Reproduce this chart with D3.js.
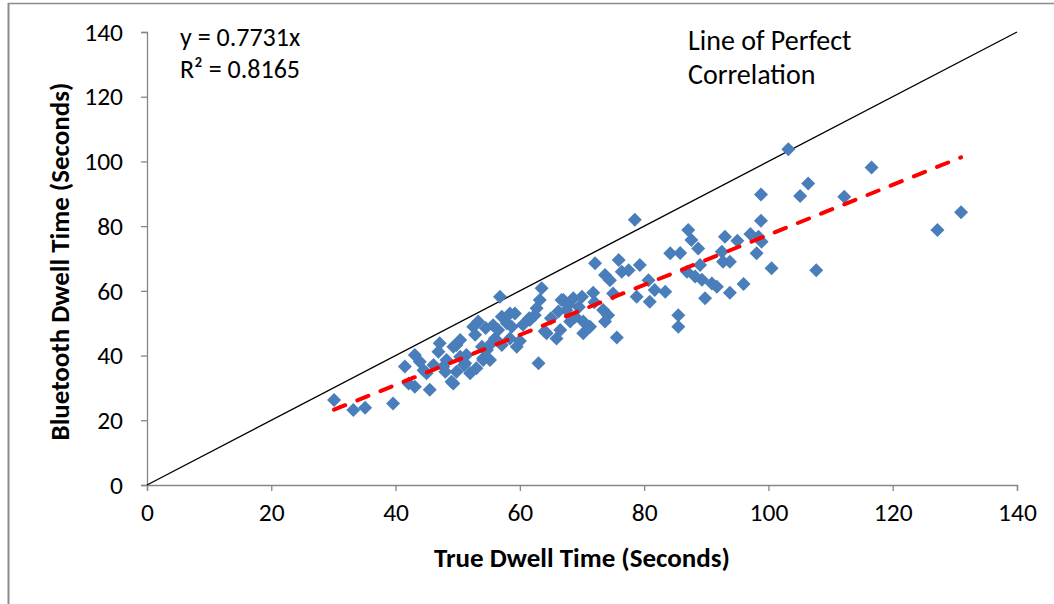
<!DOCTYPE html>
<html>
<head>
<meta charset="utf-8">
<script src="https://d3js.org/d3.v7.min.js"></script>
<style>
  body { margin: 0; background: #fff; }
  text { font-family: Carlito, "Liberation Sans Narrow", "Open Sans", sans-serif; }
</style>
</head>
<body>
<div id="my_dataviz"></div>
<script>
// true dwell time (x) vs bluetooth dwell time (y)
var trueTime = [
    30.1, 33.2, 35.1, 39.6, 41.5, 43.1, 43.9, 42.1, 43.1, 45.5,
    45.0, 46.1, 46.9, 49.0, 48.0, 49.8, 49.8, 51.4, 53.0, 54.1,
    53.9, 47.1, 50.4, 49.3, 50.4, 51.2, 48.2, 47.7, 49.3, 53.3,
    52.5, 52.8, 57.1, 58.4, 59.2, 55.7, 56.5, 57.9, 58.7, 56.0,
    57.1, 59.5, 58.4, 54.7, 55.2, 54.1, 56.8, 63.5, 63.2, 62.7,
    62.4, 61.6, 66.7, 67.8, 66.2, 64.3, 65.9, 63.0, 67.0, 68.6,
    70.0, 67.5, 68.9, 70.2, 71.3, 70.2, 66.5, 68.1, 72.1, 75.9,
    76.4, 77.5, 79.3, 73.7, 74.5, 75.0, 71.8, 80.7, 81.7, 83.4,
    78.8, 80.9, 85.5, 85.5, 73.4, 74.2, 73.7, 75.6, 84.2, 85.8,
    103.2, 116.6, 106.4, 105.1, 98.8, 112.2, 98.8, 131.0, 127.2, 107.7,
    100.5, 87.1, 87.6, 88.7, 93.0, 95.0, 97.1, 98.4, 98.9, 98.1,
    92.5, 92.7, 93.8, 89.0, 86.9, 88.2, 89.3, 90.9, 91.7, 96.0,
    93.8, 89.8, 78.5, 55.5, 60.0, 61.5, 64.0, 72.0, 69.5, 54.5,
    51.0, 44.5, 52.0, 60.5, 65.0
];
var btTime = [
    26.3, 23.2, 23.9, 25.2, 36.6, 40.2, 38.1, 31.4, 30.4, 29.4,
    34.5, 37.1, 41.2, 31.9, 35.0, 35.0, 43.3, 40.2, 36.1, 38.6,
    42.7, 43.8, 44.8, 42.7, 39.6, 37.6, 38.6, 36.6, 31.4, 50.5,
    48.9, 46.4, 52.0, 53.0, 53.0, 49.4, 47.9, 50.0, 48.9, 45.3,
    43.3, 42.7, 45.3, 41.7, 38.6, 39.2, 58.2, 60.8, 57.2, 54.6,
    52.5, 51.0, 57.2, 55.6, 53.6, 46.9, 45.3, 37.6, 57.2, 57.7,
    58.2, 54.1, 52.0, 50.5, 48.9, 46.9, 47.9, 50.5, 68.5, 69.5,
    65.9, 66.4, 68.0, 64.9, 63.3, 59.2, 59.4, 63.3, 60.3, 59.7,
    58.2, 56.6, 52.5, 48.9, 54.1, 52.5, 50.5, 45.6, 71.6, 71.7,
    103.8, 98.1, 93.2, 89.3, 89.8, 89.1, 81.7, 84.3, 78.8, 66.4,
    67.0, 78.8, 75.7, 73.1, 76.7, 75.5, 77.6, 76.7, 75.2, 71.6,
    72.1, 69.0, 69.0, 68.0, 65.9, 64.4, 63.4, 62.3, 61.3, 62.1,
    59.4, 57.7, 82.0, 44.0, 44.5, 51.5, 47.5, 56.5, 55.0, 48.5,
    37.0, 35.5, 34.5, 49.5, 51.5
];
var xTicks = [0, 20, 40, 60, 80, 100, 120, 140];
var yTicks = [0, 20, 40, 60, 80, 100, 120, 140];
var slope = 0.7731;
var fitRange = [30.1, 131.0];

var data = trueTime.map(function (t, i) { return {x: t, y: btTime[i]}; });

var FONT = "Carlito, 'Liberation Sans Narrow', 'Open Sans', sans-serif";

// set the dimensions and margins of the graph
var W = 1054, H = 604;
var margin = {top: 32, right: 37, bottom: 119, left: 147},
    width = W - margin.left - margin.right,
    height = H - margin.top - margin.bottom;

var root = d3.select("#my_dataviz")
    .append("svg")
    .attr("width", W)
    .attr("height", H);

// outer frame (only top and left show in the picture)
root.append("line").attr("x1", 8).attr("x2", W).attr("y1", 3.5).attr("y2", 3.5)
    .attr("stroke", "#8c8c8c").attr("stroke-width", 1.5);
root.append("line").attr("x1", 8.5).attr("x2", 8.5).attr("y1", 3).attr("y2", H)
    .attr("stroke", "#8c8c8c").attr("stroke-width", 2);

var svg = root.append("g")
    .attr("transform", "translate(" + margin.left + "," + margin.top + ")");

var x = d3.scaleLinear().domain([0, 140]).range([0, width]);
var y = d3.scaleLinear().domain([0, 140]).range([height, 0]);

// X axis
var gx = svg.append("g")
    .attr("transform", "translate(0," + height + ")")
    .call(d3.axisBottom(x).tickValues(xTicks).tickSize(6).tickPadding(12));
// Y axis
var gy = svg.append("g")
    .call(d3.axisLeft(y).tickValues(yTicks).tickSize(6).tickPadding(18));

[gx, gy].forEach(function (g) {
    g.attr("font-size", 25.5).attr("font-family", FONT);
    g.select(".domain").attr("stroke", "#868686").attr("stroke-width", 1.3);
    g.selectAll(".tick line").attr("stroke", "#868686").attr("stroke-width", 1.3);
    g.selectAll(".tick text").attr("fill", "#000");
});
gx.select(".domain").attr("d", "M0.5,6V0.5H" + (width + 0.5) + "V6");
gy.select(".domain").attr("d", "M-6," + (height + 0.5) + "H0.5V0.5H-6");

// line of perfect correlation
svg.append("line")
    .attr("x1", x(0)).attr("y1", y(0))
    .attr("x2", x(140)).attr("y2", y(140))
    .attr("stroke", "#000").attr("stroke-width", 1.4);

// points
var r = 7;
svg.selectAll("mypoints")
    .data(data)
    .enter()
    .append("path")
    .attr("d", "M0," + (-r) + "L" + r + ",0L0," + r + "L" + (-r) + ",0Z")
    .attr("transform", function (d) { return "translate(" + x(d.x) + "," + y(d.y) + ")"; })
    .attr("fill", "#4a7ebb");

// linear trendline through origin
svg.append("line")
    .attr("x1", x(fitRange[0])).attr("y1", y(fitRange[0] * slope))
    .attr("x2", x(fitRange[1])).attr("y2", y(fitRange[1] * slope))
    .attr("stroke", "#ff0000").attr("stroke-width", 4)
    .attr("stroke-linecap", "round")
    .attr("stroke-dasharray", "12,13");

// annotations
var ann = root.append("g").attr("fill", "#000");
ann.append("text").attr("x", 180).attr("y", 46).attr("font-size", 26).text("y = 0.7731x");
ann.append("text").attr("x", 180).attr("y", 78).attr("font-size", 26).text("R² = 0.8165");
ann.append("text").attr("x", 688).attr("y", 50).attr("font-size", 28).text("Line of Perfect");
ann.append("text").attr("x", 688).attr("y", 84).attr("font-size", 28).text("Correlation");

// axis titles
root.append("text")
    .attr("x", margin.left + width / 2).attr("y", 567)
    .attr("text-anchor", "middle")
    .attr("font-size", 27).attr("font-weight", "bold")
    .text("True Dwell Time (Seconds)");
root.append("text")
    .attr("transform", "translate(69," + (margin.top + height / 2 + 3) + ") rotate(-90)")
    .attr("text-anchor", "middle")
    .attr("font-size", 27).attr("font-weight", "bold")
    .text("Bluetooth Dwell Time (Seconds)");
</script>
</body>
</html>
